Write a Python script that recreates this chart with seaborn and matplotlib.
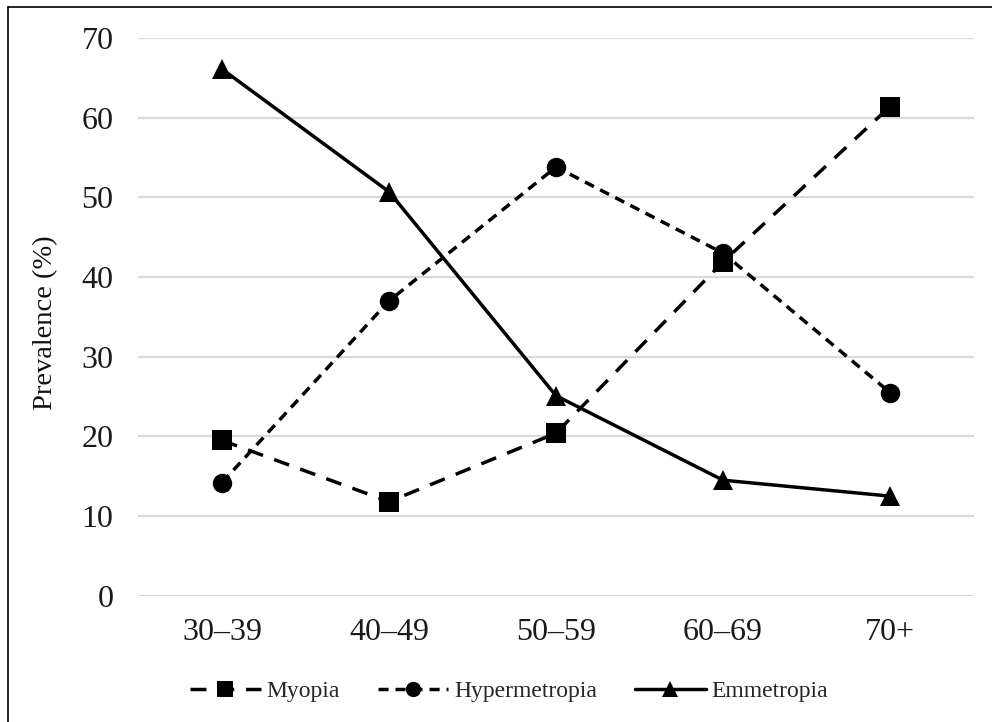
import matplotlib
matplotlib.use('Agg')
import matplotlib.pyplot as plt
from matplotlib.lines import Line2D
import seaborn as sns
import pandas as pd

# values
age_groups = ['30–39', '40–49', '50–59', '60–69', '70+']
myopia = [19.5, 11.8, 20.4, 41.9, 61.4]
hypermetropia = [14.2, 37.0, 53.8, 43.0, 25.5]
emmetropia = [66.1, 50.7, 25.1, 14.5, 12.5]
series_names = ['Myopia', 'Hypermetropia', 'Emmetropia']
y_ticks = [0, 10, 20, 30, 40, 50, 60, 70]

sns.set_theme(style='white')
plt.rcParams['font.family'] = ['Liberation Serif', 'DejaVu Serif']

df = pd.DataFrame({
    'age': age_groups * 3,
    'value': myopia + hypermetropia + emmetropia,
    'type': [n for n in series_names for _ in age_groups],
})

markers = {'Myopia': 's', 'Hypermetropia': 'o', 'Emmetropia': '^'}
dashes = {'Myopia': (4.6, 3.4), 'Hypermetropia': (2.9, 2.0), 'Emmetropia': ''}

fig = plt.figure(figsize=(9.92, 7.22), dpi=100)
ax = fig.add_axes([0.1396, 0.1749, 0.8418, 0.7725])

sns.lineplot(data=df, x='age', y='value', style='type', style_order=series_names,
             markers=markers, dashes=dashes, color='black', linewidth=2.5,
             markersize=14, markeredgewidth=0, legend=False, ax=ax, sort=False)

ax.set_xlim(-0.5, len(age_groups) - 0.5)
ax.set_ylim(0, 70)
ax.set_yticks(y_ticks)
ax.set_xticks(range(len(age_groups)))
ax.set_xticklabels(age_groups)
ax.yaxis.grid(True, color='#d9d9d9', linewidth=1.6)
ax.xaxis.grid(False)
ax.set_axisbelow(True)
for s in ax.spines.values():
    s.set_visible(False)
ax.tick_params(axis='both', length=0, labelsize=23, colors='#1a1a1a')
ax.tick_params(axis='y', pad=18)
ax.tick_params(axis='x', pad=16)
ax.set_xlabel('')
ax.set_ylabel('Prevalence (%)', fontsize=20.5, color='#111111')
ax.yaxis.set_label_coords(-0.096, 0.489)

# legend below the plot
handles = []
for name in series_names:
    handles.append(Line2D([], [], color='black', linewidth=2.5, marker=markers[name],
                          markersize=11, markeredgewidth=0,
                          dashes=dashes[name] if dashes[name] else (None, None),
                          linestyle='-'))
fig.legend(handles, series_names, loc='center', bbox_to_anchor=(509 / 992, 1 - 691 / 722),
           ncol=3, frameon=False, fontsize=17, handlelength=3.0, handletextpad=0.25,
           columnspacing=1.6)

# outer frame (left and top edges visible)
fig.add_artist(Line2D([8 / 992, 8 / 992], [0, 1 - 7 / 722], transform=fig.transFigure,
                      color='black', linewidth=1.2))
fig.add_artist(Line2D([8 / 992, 1], [1 - 7 / 722, 1 - 7 / 722], transform=fig.transFigure,
                      color='black', linewidth=1.2))

fig.savefig('out.png', dpi=100)
